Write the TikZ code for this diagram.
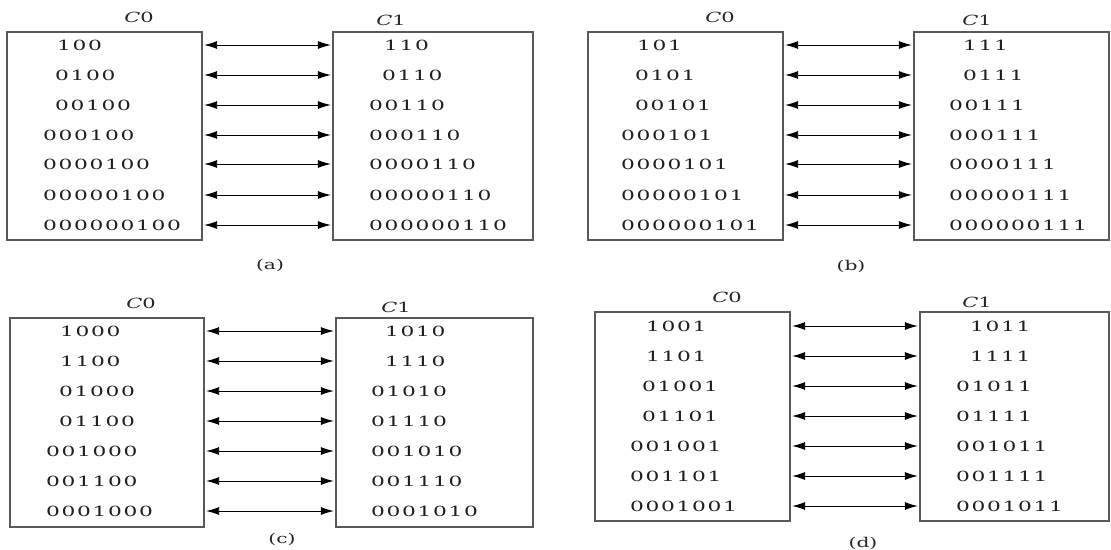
\documentclass[tikz,border=0pt]{standalone}
\usepackage{fontspec}
\usepackage{graphicx}
\setmainfont{DejaVu Serif}
\usetikzlibrary{arrows.meta}
\newlength\dgw \setlength\dgw{15.5pt}
\def\bitsA#1{\ifx#1\relax\else\makebox[\dgw]{\scalebox{1.55}[1]{#1}}\expandafter\bitsA\fi}
\newcommand\bits[1]{\bitsA#1\relax}
\newcommand\xbits[1]{\expandafter\bits\expandafter{#1}}
\newcommand\wide[1]{\scalebox{1.5}[1]{#1}}
\tikzset{
  box/.style={draw=black!65, line width=1.9pt, inner sep=0pt},
  bit/.style={anchor=west, inner sep=0pt, text=black!88, font=\fontsize{14}{16}\selectfont},
  arr/.style={line width=0.9pt, black, {Latex[length=13pt,width=8pt]}-{Latex[length=13pt,width=8pt]}, shorten <=1.2pt, shorten >=1.2pt},
  hdr/.style={inner sep=0pt, text=black!85, font=\fontsize{14}{16}\selectfont},
  subcap/.style={inner sep=0pt, text=black!85, font=\fontsize{13.5}{15}\selectfont}
}
\begin{document}
\begin{tikzpicture}[x=1pt, y=-1pt]
\useasboundingbox (0,0) rectangle (1111,549);
\fill[white] (0,0) rectangle (1111,549);

% ---------- panel (a)
\node[box, minimum width=195pt, minimum height=208pt] (aL) at (104.5,136) {};
\node[box, minimum width=200pt, minimum height=208pt] (aR) at (433,136) {};
\node[hdr] (aC0) at (139,17) {\wide{\itshape C}\wide{0}};
\node[hdr] (aC1) at (391,20) {\wide{\itshape C}\wide{1}};
\node[subcap] (acap) at (270,265) {\wide{(a)}};
\foreach \i/\qy/\qlx/\qlt/\qrx/\qrt in {1/45/59/100/386/110, 2/75/57/0100/384/0110, 3/105/57/00100/371/00110, 4/135/45/000100/371/000110, 5/164/45/0000100/371/0000110, 6/195/45/00000100/371/00000110, 7/225/45/000000100/371/000000110}{
  \node[bit] (a-l\i) at (\qlx-3,\qy) {\xbits{\qlt}};
  \node[bit] (a-r\i) at (\qrx-3,\qy) {\xbits{\qrt}};
  \draw[arr] (aL.east |- a-l\i) -- (aR.west |- a-l\i);
}

% ---------- panel (b)
\node[box, minimum width=195pt, minimum height=208pt] (bL) at (685.5,136) {};
\node[box, minimum width=195pt, minimum height=208pt] (bR) at (1011.5,136) {};
\node[hdr] (bC0) at (720,17) {\wide{\itshape C}\wide{0}};
\node[hdr] (bC1) at (977,20) {\wide{\itshape C}\wide{1}};
\node[subcap] (bcap) at (851,266) {\wide{(b)}};
\foreach \i/\qy/\qlx/\qlt/\qrx/\qrt in {1/45/639/101/965/111, 2/75/637/0101/965/0111, 3/105/637/00101/951/00111, 4/135/623/000101/951/000111, 5/164/623/0000101/951/0000111, 6/195/623/00000101/951/00000111, 7/225/623/000000101/951/000000111}{
  \node[bit] (b-l\i) at (\qlx-3,\qy) {\xbits{\qlt}};
  \node[bit] (b-r\i) at (\qrx-3,\qy) {\xbits{\qrt}};
  \draw[arr] (bL.east |- b-l\i) -- (bR.west |- b-l\i);
}

% ---------- panel (c)
\node[box, minimum width=194pt, minimum height=209pt] (cL) at (107,422.5) {};
\node[box, minimum width=197pt, minimum height=209pt] (cR) at (434.5,422.5) {};
\node[hdr] (cC0) at (141,303) {\wide{\itshape C}\wide{0}};
\node[hdr] (cC1) at (396,307) {\wide{\itshape C}\wide{1}};
\node[subcap] (ccap) at (282,539) {\wide{(c)}};
\foreach \i/\qy/\qlx/\qlt/\qrx/\qrt in {1/331/62/1000/387/1010, 2/361/62/1100/387/1110, 3/391/61/01000/373/01010, 4/421/61/01100/373/01110, 5/451/48/001000/373/001010, 6/481/48/001100/373/001110, 7/511/48/0001000/373/0001010}{
  \node[bit] (c-l\i) at (\qlx-3,\qy) {\xbits{\qlt}};
  \node[bit] (c-r\i) at (\qrx-3,\qy) {\xbits{\qrt}};
  \draw[arr] (cL.east |- c-l\i) -- (cR.west |- c-l\i);
}

% ---------- panel (d)
\node[box, minimum width=195pt, minimum height=209pt] (dL) at (692.5,416.5) {};
\node[box, minimum width=189pt, minimum height=209pt] (dR) at (1014.5,416.5) {};
\node[hdr] (dC0) at (727,297) {\wide{\itshape C}\wide{0}};
\node[hdr] (dC1) at (977,302) {\wide{\itshape C}\wide{1}};
\node[subcap] (dcap) at (863,543) {\wide{(d)}};
\foreach \i/\qy/\qlx/\qlt/\qrx/\qrt in {1/326/648/1001/972/1011, 2/356/648/1101/972/1111, 3/386/644/01001/958/01011, 4/416/644/01101/958/01111, 5/446/632/001001/958/001011, 6/476/632/001101/958/001111, 7/506/632/0001001/958/0001011}{
  \node[bit] (d-l\i) at (\qlx-3,\qy) {\xbits{\qlt}};
  \node[bit] (d-r\i) at (\qrx-3,\qy) {\xbits{\qrt}};
  \draw[arr] (dL.east |- d-l\i) -- (dR.west |- d-l\i);
}
\end{tikzpicture}
\end{document}
